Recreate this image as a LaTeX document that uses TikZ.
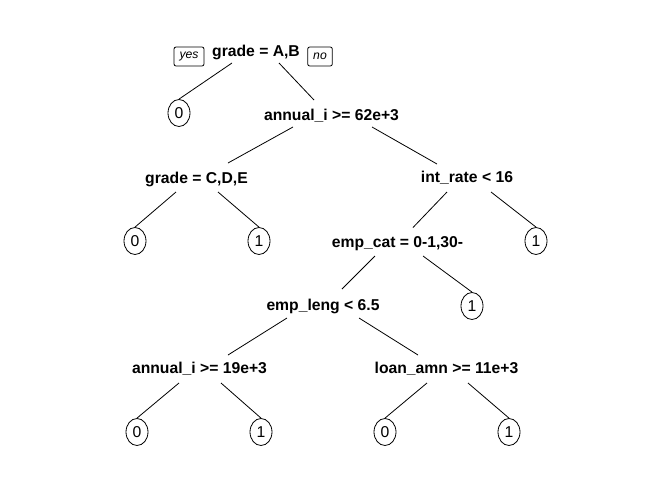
\documentclass[tikz,border=0pt]{standalone}
\usepackage{fontspec}
\setmainfont{Liberation Sans}
\usetikzlibrary{shapes,positioning,calc}

\begin{document}
\begin{tikzpicture}[
    x=1pt, y=-1pt,
    split/.style={font=\bfseries\fontsize{15.7}{16}\selectfont, inner sep=0pt, text height=11.3pt, text depth=0pt},
    leaf/.style={ellipse, draw, line width=0.8pt, minimum width=22pt, minimum height=27pt, inner sep=0pt,
                 font=\fontsize{15.7}{16}\selectfont, text height=11.3pt, text depth=0pt},
    tag/.style={rectangle, draw, rounded corners=2pt, line width=0.8pt, minimum height=19pt,
                inner xsep=5.5pt, inner ysep=0pt, font=\itshape\fontsize{12.2}{13}\selectfont},
    branch/.style={line width=0.8pt}
]
    \useasboundingbox (0,0) rectangle (672,480);

    % splits
    \node[split] (grade) at (256,51) {grade = A,B};
    \node[split] (income) at (331.5,114.5) {annual\_i >= 62e+3};
    \node[split] (grade2) at (196.5,177.5) {grade = C,D,E};
    \node[split] (rate) at (467,177) {int\_rate < 16};
    \node[split] (cat) at (397.5,242) {emp\_cat = 0-1,30-};
    \node[split] (leng) at (323,305) {emp\_leng < 6.5};
    \node[split] (income2) at (199.5,368) {annual\_i >= 19e+3};
    \node[split] (loan) at (446.5,368) {loan\_amn >= 11e+3};

    % yes / no tags
    \node[tag] (yes) at (189,56.5) {yes};
    \node[tag] (no) at (320,56.5) {no};

    % leaves
    \node[leaf] (leafA) at (179,113) {0};
    \node[leaf] (leafB) at (135,241) {0};
    \node[leaf] (leafC) at (259,241) {1};
    \node[leaf] (leafD) at (536,241) {1};
    \node[leaf] (leafE) at (472,306) {1};
    \node[leaf] (leafF) at (137,432) {0};
    \node[leaf] (leafG) at (261,432) {1};
    \node[leaf] (leafH) at (385,432) {0};
    \node[leaf] (leafI) at (509,432) {1};

    \draw[branch] ([shift={(-24,12)}]grade.center) -- (leafA.north);
    \draw[branch] ([shift={(23,12)}]grade.center) -- ([shift={(-17.5,-14.5)}]income.center);
    \draw[branch] ([shift={(-38.5,12.5)}]income.center) -- ([shift={(31.5,-14.5)}]grade2.center);
    \draw[branch] ([shift={(40.5,12.5)}]income.center) -- ([shift={(-30,-13)}]rate.center);
    \draw[branch] ([shift={(-20.5,14.5)}]grade2.center) -- (leafB.north);
    \draw[branch] ([shift={(21.5,14.5)}]grade2.center) -- (leafC.north);
    \draw[branch] ([shift={(-20,15)}]rate.center) -- ([shift={(15.5,-14.5)}]cat.center);
    \draw[branch] ([shift={(24,15)}]rate.center) -- (leafD.north);
    \draw[branch] ([shift={(-22.5,14)}]cat.center) -- ([shift={(19,-16)}]leng.center);
    \draw[branch] ([shift={(25.5,14)}]cat.center) -- (leafE.north);
    \draw[branch] ([shift={(-36,13)}]leng.center) -- ([shift={(28.5,-13)}]income2.center);
    \draw[branch] ([shift={(36,13)}]leng.center) -- ([shift={(-28.5,-13)}]loan.center);
    \draw[branch] ([shift={(-20.5,15)}]income2.center) -- (leafF.north);
    \draw[branch] ([shift={(21.5,15)}]income2.center) -- (leafG.north);
    \draw[branch] ([shift={(-19.5,15)}]loan.center) -- (leafH.north);
    \draw[branch] ([shift={(21.5,15)}]loan.center) -- (leafI.north);
\end{tikzpicture}
\end{document}
